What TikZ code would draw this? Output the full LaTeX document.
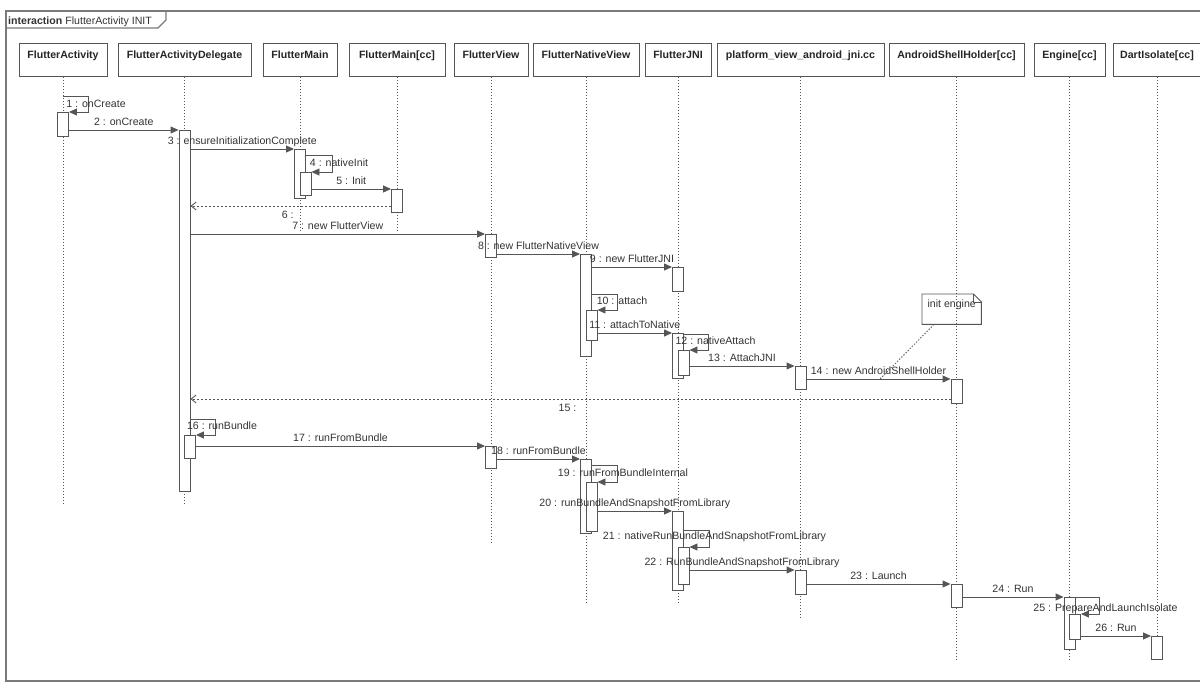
\documentclass[tikz,border=0pt]{standalone}
\usepackage{fontspec}
\setmainfont{Liberation Sans}
\usetikzlibrary{arrows.meta}
\definecolor{linegray}{HTML}{555555}
\definecolor{framegray}{HTML}{7A7A7A}
\definecolor{txtgray}{HTML}{333333}

\begin{document}
\begin{tikzpicture}[x=1pt,y=-1pt,
  font=\fontsize{10.6}{12}\selectfont, text=txtgray,
  obj/.style={draw=linegray, line width=0.9pt, fill=white, anchor=north,
    minimum height=33pt, inner sep=0pt, text height=8pt, text depth=11.5pt,
    font=\bfseries\fontsize{10.6}{12}\selectfont, text=black!85},
  life/.style={draw=linegray, line width=0.8pt, dash pattern=on 1.5pt off 1.5pt},
  act/.style={draw=linegray, line width=0.9pt, fill=white, anchor=north,
    minimum width=11pt, inner sep=0pt},
  msg/.style={draw=linegray, line width=0.9pt, -{Triangle[length=8pt,width=7pt]}},
  ret/.style={draw=linegray, line width=0.9pt, dash pattern=on 2pt off 2pt,
    -{Straight Barb[length=5pt,width=8pt]}},
  lbl/.style={anchor=base, yshift=4.5pt, inner sep=0pt},
  retlbl/.style={anchor=base, yshift=-12pt, inner sep=0pt},
  slbl/.style={anchor=base, inner sep=0pt},
]
\useasboundingbox (0,0) rectangle (1200,683);

% frame and title tab
\draw[framegray, line width=1.2pt] (6,11) rectangle (1212,681);
\node[anchor=base west, inner sep=0pt] (title) at (8,24) {\textbf{interaction} FlutterActivity INIT};
\draw[framegray, line width=1.2pt] (6,28) -- (158,28) -- (166,20) -- (166,11);

% objects and lifelines
\foreach \n/\x/\w/\t/\e in {hFA/63/88/FlutterActivity/503,
    hFAD/184.5/133/FlutterActivityDelegate/503,
    hFM/300/74/FlutterMain/231,
    hFMC/397/96/{FlutterMain[cc]}/232,
    hFV/491/74/FlutterView/543,
    hFNV/586/106/FlutterNativeView/602,
    hFJ/678/66/FlutterJNI/602,
    hPV/800.5/167/platform\_view\_android\_jni.cc/617,
    hASH/956.5/135/{AndroidShellHolder[cc]}/660,
    hEN/1069.5/71/{Engine[cc]}/660,
    hDI/1157/88/{DartIsolate[cc]}/660}{
  \node[obj, minimum width=\w pt] (\n) at (\x,43) {\t};
  \draw[life] (\n.south) -- (\x,\e);
}

% activations
\node[act, minimum height=24pt] (fa1) at (hFA.south |- 0,112) {};
\node[act, minimum height=361pt] (d1) at (hFAD.south |- 0,130) {};
\node[act, minimum height=23pt, xshift=5.5pt] (d2) at (hFAD.south |- 0,435) {};
\node[act, minimum height=49pt] (fm1) at (hFM.south |- 0,149) {};
\node[act, minimum height=23pt, xshift=5.5pt] (fm2) at (hFM.south |- 0,172) {};
\node[act, minimum height=23pt] (fmc1) at (hFMC.south |- 0,189) {};
\node[act, minimum height=23pt] (fv1) at (hFV.south |- 0,234) {};
\node[act, minimum height=102pt] (fnv1) at (hFNV.south |- 0,254) {};
\node[act, minimum height=24pt] (fj1) at (hFJ.south |- 0,267) {};
\node[act, minimum height=30pt, xshift=5.5pt] (fnv2) at (hFNV.south |- 0,310) {};
\node[act, minimum height=45pt] (fj2) at (hFJ.south |- 0,333) {};
\node[act, minimum height=25pt, xshift=5.5pt] (fj3) at (hFJ.south |- 0,350) {};
\node[act, minimum height=23pt] (pv1) at (hPV.south |- 0,366) {};
\node[act, minimum height=24pt] (ash1) at (hASH.south |- 0,379) {};
\node[act, minimum height=22pt] (fv2) at (hFV.south |- 0,446) {};
\node[act, minimum height=74pt] (fnv3) at (hFNV.south |- 0,459) {};
\node[act, minimum height=49pt, xshift=5.5pt] (fnv4) at (hFNV.south |- 0,482) {};
\node[act, minimum height=79pt] (fj4) at (hFJ.south |- 0,511) {};
\node[act, minimum height=37pt, xshift=5.5pt] (fj5) at (hFJ.south |- 0,547) {};
\node[act, minimum height=24pt] (pv2) at (hPV.south |- 0,570) {};
\node[act, minimum height=23pt] (ash2) at (hASH.south |- 0,584) {};
\node[act, minimum height=52pt] (en1) at (hEN.south |- 0,597) {};
\node[act, minimum height=25pt, xshift=5.5pt] (en2) at (hEN.south |- 0,614) {};
\node[act, minimum height=23pt] (di1) at (hDI.south |- 0,636) {};

% messages
\draw[msg] (hFA.south |- 0,96) -- ++(25,0) |- (fa1.north east);
\node[slbl] (l1) at (96,107) {1 : onCreate};
\draw[msg] (fa1.east |- d1.north) -- node[lbl] {2 : onCreate} (d1.north west);
\draw[msg] (d1.east |- fm1.north) -- node[lbl] {3 : ensureInitializationComplete} (fm1.north west);
\draw[msg] (fm1.east |- 0,155) -- ++(26,0) |- (fm2.north east);
\node[slbl] (l4) at (339,166.5) {4 : nativeInit};
\draw[msg] (fm2.east |- fmc1.north) -- node[lbl] {5 : Init} (fmc1.north west);
\draw[ret] (fmc1.west |- 0,206) -- node[retlbl, xshift=-3pt] {6 :} (d1.east |- 0,206);
\draw[msg] (d1.east |- fv1.north) -- node[lbl] {7 : new FlutterView} (fv1.north west);
\draw[msg] (fv1.east |- fnv1.north) -- node[lbl] {8 : new FlutterNativeView} (fnv1.north west);
\draw[msg] (fnv1.east |- fj1.north) -- node[lbl] {9 : new FlutterJNI} (fj1.north west);
\draw[msg] (fnv1.east |- 0,294) -- ++(25,0) |- (fnv2.north east);
\node[slbl] (l10) at (622,304.5) {10 : attach};
\draw[msg] (fnv2.east |- fj2.north) -- node[lbl] {11 : attachToNative} (fj2.north west);
\draw[msg] (fj2.east |- 0,334) -- ++(24,0) |- (fj3.north east);
\node[slbl] (l12) at (715.5,344.5) {12 : nativeAttach};
\draw[msg] (fj3.east |- pv1.north) -- node[lbl] {13 : AttachJNI} (pv1.north west);
\draw[msg] (pv1.east |- ash1.north) -- node[lbl] {14 : new AndroidShellHolder} (ash1.north west);
\draw[ret] (ash1.west |- 0,399) -- node[retlbl, xshift=-3pt] {15 :} (d1.east |- 0,399);
\draw[msg] (d1.east |- 0,419) -- ++(25,0) |- (d2.north east);
\node[slbl] (l16) at (222,429.5) {16 : runBundle};
\draw[msg] (d2.east |- fv2.north) -- node[lbl] {17 : runFromBundle} (fv2.north west);
\draw[msg] (fv2.east |- fnv3.north) -- node[lbl] {18 : runFromBundle} (fnv3.north west);
\draw[msg] (fnv3.east |- 0,465) -- ++(25,0) |- (fnv4.north east);
\node[slbl] (l19) at (623,476) {19 : runFromBundleInternal};
\draw[msg] (fnv4.east |- fj4.north) -- node[lbl] {20 : runBundleAndSnapshotFromLibrary} (fj4.north west);
\draw[msg] (fj4.east |- 0,530) -- ++(25,0) |- (fj5.north east);
\node[slbl] (l21) at (714.5,539.5) {21 : nativeRunBundleAndSnapshotFromLibrary};
\draw[msg] (fj5.east |- pv2.north) -- node[lbl] {22 : RunBundleAndSnapshotFromLibrary} (pv2.north west);
\draw[msg] (pv2.east |- ash2.north) -- node[lbl] {23 : Launch} (ash2.north west);
\draw[msg] (ash2.east |- en1.north) -- node[lbl] {24 : Run} (en1.north west);
\draw[msg] (en1.east |- 0,597) -- ++(24,0) |- (en2.north east);
\node[slbl] (l25) at (1105.5,611.5) {25 : PrepareAndLaunchIsolate};
\draw[msg] (en2.east |- di1.north) -- node[lbl] {26 : Run} (di1.north west);

% note
\node[anchor=north west, minimum width=59pt, minimum height=30pt, inner sep=0pt,
  text height=7.5pt, text depth=10pt] (note) at (922,294) {init engine};
\draw[linegray, line width=0.9pt] (note.north west) -- ([xshift=-8pt]note.north east)
  -- ([yshift=-8pt]note.north east) -- (note.south east) -- (note.south west) -- cycle;
\draw[linegray, line width=0.7pt] ([xshift=-8pt]note.north east) -- ([xshift=-8pt,yshift=-8pt]note.north east)
  -- ([yshift=-8pt]note.north east);
\coordinate (m14pt) at (880,379);
\draw[life] ([xshift=12pt]note.south west) -- (m14pt);
\end{tikzpicture}
\end{document}
